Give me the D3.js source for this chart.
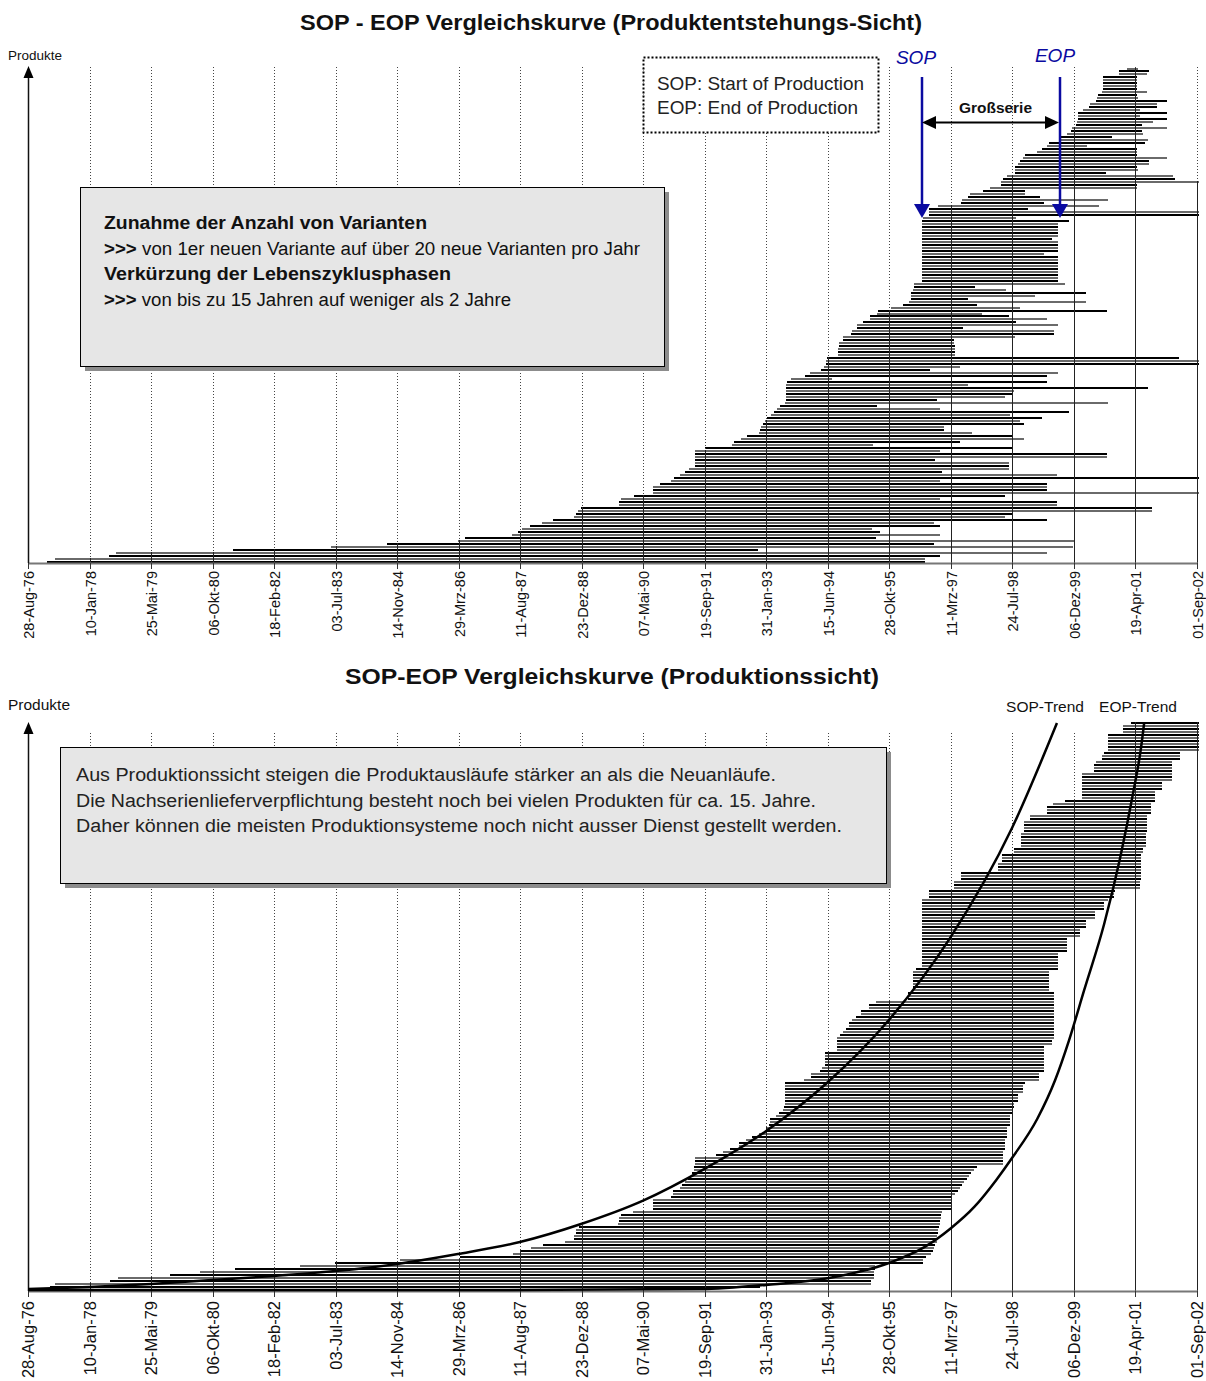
<!DOCTYPE html>
<html>
<head>
<meta charset="utf-8">
<script src="https://cdn.jsdelivr.net/npm/d3@7"></script>
<style>
  body { margin: 0; background: #fff; }
  svg text { font-family: "Liberation Sans", Arial, sans-serif; }
</style>
</head>
<body>
<div id="chart"></div>
<script>
// x axis: one tick every 500 days
const tickDates = ['1976-08-28', '1978-01-10', '1979-05-25', '1980-10-06', '1982-02-18',
  '1983-07-03', '1984-11-14', '1986-03-29', '1987-08-11', '1988-12-23', '1990-05-07',
  '1991-09-19', '1993-01-31', '1994-06-15', '1995-10-28', '1997-03-11', '1998-07-24',
  '1999-12-06', '2001-04-19', '2002-09-01'];
const tickLabels = ['28-Aug-76', '10-Jan-78', '25-Mai-79', '06-Okt-80', '18-Feb-82',
  '03-Jul-83', '14-Nov-84', '29-Mrz-86', '11-Aug-87', '23-Dez-88', '07-Mai-90',
  '19-Sep-91', '31-Jan-93', '15-Jun-94', '28-Okt-95', '11-Mrz-97', '24-Jul-98',
  '06-Dez-99', '19-Apr-01', '01-Sep-02'];

// Produktentstehungs-Sicht: SOP / EOP per product (decimal years), top row first
const sopTop = [
  2001.11, 2000.93, 2000.93, 2000.58, 2000.58, 2000.58, 2000.58, 2000.58, 2000.55, 2000.46,
  2000.44, 2000.42, 2000.29, 2000.26, 2000.13, 2000.02, 2000.02, 2000.02, 2000.00, 1999.98,
  1999.89, 1999.86, 1999.78, 1999.62, 1999.60, 1999.37, 1999.33, 1999.22, 1999.11, 1998.84,
  1998.80, 1998.73, 1998.68, 1998.62, 1998.62, 1998.62, 1998.44, 1998.35, 1998.31, 1998.31,
  1998.06, 1997.91, 1997.62, 1997.57, 1997.44, 1997.42, 1996.90, 1996.70, 1996.70, 1996.70,
  1996.57, 1996.55, 1996.55, 1996.55, 1996.55, 1996.55, 1996.55, 1996.55, 1996.55, 1996.55,
  1996.55, 1996.55, 1996.55, 1996.55, 1996.55, 1996.55, 1996.55, 1996.55, 1996.55, 1996.55,
  1996.55, 1996.55, 1996.37, 1996.37, 1996.35, 1996.30, 1996.30, 1996.30, 1996.26, 1996.13,
  1995.86, 1995.57, 1995.55, 1995.39, 1995.39, 1995.24, 1995.10, 1995.10, 1994.99, 1994.97,
  1994.79, 1994.79, 1994.70, 1994.70, 1994.68, 1994.68, 1994.68, 1994.43, 1994.41, 1994.41,
  1994.37, 1994.30, 1994.06, 1993.94, 1993.63, 1993.54, 1993.52, 1993.52, 1993.52, 1993.52,
  1993.52, 1993.52, 1993.50, 1993.39, 1993.32, 1993.25, 1993.19, 1993.10, 1993.05, 1993.01,
  1992.97, 1992.94, 1992.92, 1992.65, 1992.52, 1992.36, 1992.32, 1991.72, 1991.50, 1991.50,
  1991.50, 1991.50, 1991.50, 1991.50, 1991.36, 1991.27, 1991.16, 1991.03, 1990.96, 1990.72,
  1990.56, 1990.56, 1990.56, 1990.14, 1989.85, 1989.81, 1989.81, 1988.96, 1988.89, 1988.85,
  1988.81, 1988.34, 1988.09, 1987.83, 1987.65, 1987.56, 1987.43, 1986.38, 1986.22, 1984.64,
  1983.40, 1981.22, 1978.61, 1978.46, 1977.26, 1977.08];
const eopTop = [
  2001.36, 2001.60, 2001.56, 2001.33, 2001.33, 2001.33, 2001.33, 2001.33, 2001.56, 2001.33,
  2001.36, 2002.00, 2001.78, 2001.78, 2001.40, 2002.00, 2001.40, 2002.00, 2001.69, 2001.44,
  2002.00, 2001.44, 2001.47, 2000.78, 2001.58, 2001.51, 2000.22, 2001.33, 2001.33, 2001.33,
  2002.00, 2001.60, 2001.60, 2001.33, 2001.36, 2000.64, 2002.13, 2002.18, 2002.70, 2001.33,
  2001.33, 1998.84, 1998.84, 1999.17, 2000.69, 1999.26, 2000.49, 1998.91, 2002.70, 2002.70,
  1998.64, 1999.82, 1999.58, 1999.58, 1999.58, 1999.58, 1999.58, 1999.45, 1999.58, 1999.58,
  1999.58, 1999.58, 1999.26, 1999.58, 1999.58, 1999.58, 1999.58, 1999.58, 1999.58, 1999.58,
  1999.58, 1999.58, 1999.73, 1997.73, 1998.42, 2000.20, 1999.06, 1997.57, 2000.20, 1997.77,
  1998.73, 2000.67, 1997.88, 1998.48, 1999.33, 1998.64, 1999.58, 1997.46, 1999.49, 1999.49,
  1998.62, 1997.26, 1997.26, 1997.28, 1997.28, 1997.28, 1997.28, 2002.27, 2002.70, 2002.70,
  1997.39, 1996.73, 1999.58, 1999.33, 1994.55, 1999.33, 1997.57, 2001.58, 1998.60, 1998.55,
  1998.40, 1996.88, 2000.69, 1995.55, 1996.95, 1999.82, 1998.51, 1999.22, 1998.73, 1998.82,
  1997.04, 1997.04, 1997.66, 1998.55, 1998.82, 1997.39, 1995.46, 1998.55, 1996.95, 2000.67,
  2000.67, 1996.84, 1998.48, 1998.48, 1998.48, 1996.99, 1999.55, 2002.70, 1996.95, 1999.33,
  1999.33, 1999.33, 2002.70, 1998.40, 1996.95, 1999.55, 1999.55, 2001.67, 2001.67, 1998.55,
  1998.40, 1999.33, 1996.82, 1996.95, 1995.44, 1995.61, 1996.95, 1995.53, 1999.93, 1996.82,
  1999.91, 1992.90, 1999.33, 1996.95, 1996.62, 1996.62];

// Produktionssicht: start / end per product (decimal years), top row first
const sopBot = [
  2001.20, 2001.02, 2001.02, 2001.02, 2000.69, 2000.69, 2000.69, 2000.69, 2000.69, 2000.69,
  2000.60, 2000.55, 2000.55, 2000.42, 2000.38, 2000.38, 2000.38, 2000.11, 2000.11, 2000.11,
  2000.11, 2000.11, 2000.11, 2000.11, 2000.11, 2000.11, 1999.73, 1999.46, 1999.33, 1999.33,
  1999.33, 1998.95, 1998.95, 1998.82, 1998.82, 1998.82, 1998.82, 1998.75, 1998.75, 1998.75,
  1998.75, 1998.75, 1998.60, 1998.60, 1998.33, 1998.33, 1998.33, 1998.24, 1998.24, 1998.24,
  1997.42, 1997.42, 1997.42, 1997.26, 1997.26, 1997.26, 1996.70, 1996.70, 1996.70, 1996.55,
  1996.55, 1996.55, 1996.55, 1996.55, 1996.55, 1996.55, 1996.55, 1996.55, 1996.55, 1996.55,
  1996.55, 1996.55, 1996.55, 1996.55, 1996.55, 1996.55, 1996.55, 1996.55, 1996.55, 1996.55,
  1996.55, 1996.55, 1996.41, 1996.35, 1996.35, 1996.35, 1996.35, 1996.35, 1996.35, 1996.35,
  1996.24, 1996.24, 1996.24, 1995.53, 1995.37, 1995.37, 1995.19, 1995.19, 1995.08, 1994.99,
  1994.92, 1994.92, 1994.86, 1994.79, 1994.72, 1994.66, 1994.66, 1994.66, 1994.66, 1994.66,
  1994.39, 1994.39, 1994.39, 1994.39, 1994.39, 1994.32, 1994.28, 1994.08, 1994.08, 1993.92,
  1993.50, 1993.50, 1993.50, 1993.50, 1993.50, 1993.50, 1993.50, 1993.50, 1993.48, 1993.46,
  1993.37, 1993.30, 1993.17, 1993.17, 1993.15, 1993.08, 1993.08, 1992.92, 1992.77, 1992.63,
  1992.48, 1992.48, 1992.28, 1992.12, 1991.96, 1991.50, 1991.50, 1991.50, 1991.48, 1991.48,
  1991.43, 1991.41, 1991.34, 1991.27, 1991.21, 1991.16, 1991.01, 1991.01, 1990.96, 1990.56,
  1990.56, 1990.56, 1990.56, 1990.12, 1989.85, 1989.81, 1989.81, 1989.78, 1988.92, 1988.85,
  1988.85, 1988.81, 1988.81, 1988.60, 1988.12, 1987.85, 1987.60, 1987.45, 1986.27, 1984.93,
  1983.49, 1982.71, 1981.26, 1980.48, 1979.81, 1978.66, 1978.48, 1977.26, 1977.14];
const eopBot = [
  2002.70, 2002.70, 2002.70, 2002.70, 2002.70, 2002.70, 2002.70, 2002.70, 2002.70, 2002.70,
  2002.29, 2002.29, 2002.29, 2002.11, 2002.11, 2002.11, 2002.11, 2002.11, 2002.11, 2002.11,
  2001.89, 2001.89, 2001.89, 2001.73, 2001.73, 2001.73, 2001.73, 2001.64, 2001.64, 2001.64,
  2001.64, 2001.56, 2001.56, 2001.56, 2001.56, 2001.56, 2001.56, 2001.53, 2001.53, 2001.53,
  2001.53, 2001.53, 2001.47, 2001.47, 2001.42, 2001.42, 2001.42, 2001.42, 2001.42, 2001.42,
  2001.42, 2001.42, 2001.42, 2001.40, 2001.40, 2001.40, 2000.84, 2000.82, 2000.82, 2000.69,
  2000.60, 2000.60, 2000.60, 2000.40, 2000.40, 2000.40, 2000.20, 2000.20, 2000.20, 2000.06,
  2000.06, 2000.06, 1999.78, 1999.78, 1999.78, 1999.78, 1999.78, 1999.58, 1999.58, 1999.58,
  1999.58, 1999.58, 1999.58, 1999.37, 1999.37, 1999.37, 1999.37, 1999.37, 1999.37, 1999.37,
  1999.49, 1999.49, 1999.49, 1999.49, 1999.49, 1999.49, 1999.49, 1999.49, 1999.49, 1999.49,
  1999.49, 1999.49, 1999.49, 1999.49, 1999.49, 1999.49, 1999.44, 1999.44, 1999.26, 1999.26,
  1999.26, 1999.26, 1999.26, 1999.26, 1999.26, 1999.26, 1999.26, 1999.15, 1999.15, 1999.15,
  1998.84, 1998.80, 1998.80, 1998.80, 1998.68, 1998.68, 1998.68, 1998.60, 1998.60, 1998.55,
  1998.55, 1998.51, 1998.51, 1998.51, 1998.51, 1998.44, 1998.44, 1998.44, 1998.44, 1998.40,
  1998.40, 1998.40, 1998.40, 1998.35, 1998.35, 1998.35, 1998.35, 1998.35, 1997.77, 1997.71,
  1997.64, 1997.59, 1997.55, 1997.48, 1997.44, 1997.39, 1997.35, 1997.28, 1997.19, 1997.19,
  1997.19, 1997.19, 1997.19, 1996.99, 1996.97, 1996.97, 1996.95, 1996.95, 1996.93, 1996.90,
  1996.90, 1996.88, 1996.88, 1996.88, 1996.84, 1996.82, 1996.79, 1996.75, 1996.64, 1996.57,
  1996.57, 1995.50, 1995.50, 1995.48, 1995.48, 1995.48, 1995.41, 1995.41, 1992.94];

// trend curves: [year, number of products]
const sopTrend = [[1976.66, -0.7], [1978.03, 0], [1979.39, 1], [1980.75, 2.3], [1982.13, 3.7],
  [1983.49, 5.3], [1984.87, 7.7], [1986.22, 11], [1987.60, 15], [1988.96, 21], [1990.34, 28.8],
  [1991.70, 39.3], [1993.08, 52], [1994.43, 68], [1995.81, 89], [1997.17, 116.3],
  [1998.55, 153], [1999.55, 188]];
const eopTrend = [[1976.66, -1], [1987.16, -1], [1991.61, -0.7], [1993.08, 0.7], [1994.48, 3],
  [1995.81, 8], [1996.59, 13.2], [1997.19, 19.6], [1997.71, 26.7], [1998.20, 35.7],
  [1998.55, 43], [1999.11, 56], [1999.51, 69], [1999.82, 82.3], [2000.15, 98.7],
  [2000.60, 121], [2000.95, 142.7], [2001.24, 164.3], [2001.42, 179.7], [2001.49, 188]];

const W = 1206, H = 1381;
const svg = d3.select('#chart').append('svg').attr('width', W).attr('height', H);

const toYear = s => {
  const d = new Date(s + 'T00:00:00Z');
  const yr = d.getUTCFullYear();
  const a = Date.UTC(yr, 0, 1), b = Date.UTC(yr + 1, 0, 1);
  return yr + (d - a) / (b - a);
};
const tickYears = tickDates.map(toYear);
const x = d3.scaleLinear().domain([tickYears[0], tickYears[tickYears.length - 1]]).range([28, 1197]);
const xMax = 2002.7;

function drawPanel(cfg) {
  const { sop, eop, rowTop, rowBottom, gridTop, axisY, labelSize } = cfg;
  const n = sop.length;
  const y = d3.scaleLinear().domain([0, n - 1]).range([rowTop, rowBottom]);
  const g = svg.append('g');

  // bars, alternating black / grey rows like the original
  g.selectAll('rect.bar').data(d3.range(n)).join('rect')
    .attr('class', 'bar')
    .attr('x', i => x(sop[i]))
    .attr('width', i => Math.max(1, x(Math.min(eop[i], xMax)) - x(sop[i])))
    .attr('y', i => Math.round(y(i)) - 1)
    .attr('height', 2)
    .attr('fill', i => (n - 1 - i) % 2 ? '#6a6a6a' : '#000')
    .attr('shape-rendering', 'crispEdges');

  // gridlines: dotted, solid below the highest bar that crosses them
  tickYears.slice(1).forEach(t => {
    const xx = Math.round(x(t)) + 0.5;
    const hit = d3.range(n).find(i => sop[i] <= t && eop[i] >= t);
    const solidTop = hit === undefined ? axisY : Math.round(y(hit)) - 1;
    g.append('line')
      .attr('x1', xx).attr('x2', xx).attr('y1', gridTop).attr('y2', solidTop)
      .attr('stroke', '#444').attr('stroke-dasharray', '1,2');
    if (hit !== undefined) {
      g.append('line')
        .attr('x1', xx).attr('x2', xx).attr('y1', solidTop).attr('y2', axisY)
        .attr('stroke', '#222');
    }
  });

  // x axis
  g.append('line').attr('x1', 28).attr('x2', 1198).attr('y1', axisY + 0.5).attr('y2', axisY + 0.5)
    .attr('stroke', '#777').attr('stroke-width', 2);
  tickYears.forEach((t, k) => {
    const xx = Math.round(x(t)) + 0.5;
    g.append('line').attr('x1', xx).attr('x2', xx).attr('y1', axisY).attr('y2', axisY + 6)
      .attr('stroke', '#333');
    g.append('text')
      .attr('transform', `translate(${xx},${axisY + cfg.labelGap}) rotate(-90)`)
      .attr('text-anchor', 'end').attr('dy', '0.35em')
      .attr('font-size', labelSize).attr('fill', '#111')
      .text(tickLabels[k]);
  });

  // y axis arrow
  g.append('line').attr('x1', 28.5).attr('x2', 28.5).attr('y1', axisY).attr('y2', cfg.arrowTip + 10)
    .attr('stroke', '#111').attr('stroke-width', 1.5);
  g.append('path')
    .attr('d', `M28.5,${cfg.arrowTip} L23.5,${cfg.arrowTip + 12} L33.5,${cfg.arrowTip + 12} Z`)
    .attr('fill', '#000');
  svg.append('text').attr('x', 8).attr('y', cfg.produkteY).attr('font-size', cfg.produkteSize)
    .attr('fill', '#111').text('Produkte');
  return { g, y };
}

function shadowBox(x0, y0, w, h) {
  svg.append('rect').attr('x', x0 + 5).attr('y', y0 + 5).attr('width', w).attr('height', h).attr('fill', '#8c8c8c');
  svg.append('rect').attr('x', x0 + 0.5).attr('y', y0 + 0.5).attr('width', w).attr('height', h)
    .attr('fill', '#e6e6e6').attr('stroke', '#000');
}

// text line helper: fixed width as measured on the original
function textLine(parent, x0, y0, size, len, parts) {
  const t = parent.append('text').attr('x', x0).attr('y', y0).attr('font-size', size)
    .attr('textLength', len).attr('lengthAdjust', 'spacingAndGlyphs');
  parts.forEach(([s, bold]) => t.append('tspan').attr('font-weight', bold ? 'bold' : null).text(s));
  return t;
}

// ---------- top panel ----------
textLine(svg, 300, 30, 22, 622, [['SOP - EOP Vergleichskurve (Produktentstehungs-Sicht)', true]])
  .attr('fill', '#111');

drawPanel({ sop: sopTop, eop: eopTop, rowTop: 68.5, rowBottom: 561.5, gridTop: 67, axisY: 563,
  labelSize: 14.5, labelGap: 8, arrowTip: 66, produkteY: 60, produkteSize: 13.5 });

shadowBox(80, 187, 584, 179);
const info = svg.append('g').attr('fill', '#111');
textLine(info, 104, 229, 18, 323, [['Zunahme der Anzahl von Varianten', true]]);
textLine(info, 104, 255, 18, 536, [['>>>', true], [' von 1er neuen Variante auf über 20 neue Varianten pro Jahr', false]]);
textLine(info, 104, 280, 18, 347, [['Verkürzung der Lebenszyklusphasen', true]]);
textLine(info, 104, 306, 18, 407, [['>>>', true], [' von bis zu 15 Jahren auf weniger als 2 Jahre', false]]);

// SOP / EOP legend box (dotted)
svg.append('rect').attr('x', 643.5).attr('y', 57.5).attr('width', 235).attr('height', 75)
  .attr('fill', '#fff').attr('stroke', '#000').attr('stroke-width', 2).attr('stroke-dasharray', '2,2');
const leg = svg.append('g').attr('fill', '#222');
textLine(leg, 657, 90, 18, 207, [['SOP: Start of Production', false]]);
textLine(leg, 657, 114, 18, 201, [['EOP: End of Production', false]]);

// blue SOP / EOP arrows
const blue = '#0a0aa0';
[[922, 'SOP', 916, 64], [1060, 'EOP', 1055, 62]].forEach(([ax, lbl, lx, ly]) => {
  svg.append('text').attr('x', lx).attr('y', ly).attr('text-anchor', 'middle')
    .attr('font-size', 19).attr('font-style', 'italic').attr('fill', blue).text(lbl);
  svg.append('line').attr('x1', ax).attr('x2', ax).attr('y1', 77).attr('y2', 206)
    .attr('stroke', blue).attr('stroke-width', 2.5);
  svg.append('path').attr('d', `M${ax - 8},204 L${ax + 8},204 L${ax},218 Z`).attr('fill', blue);
});
// Großserie double arrow
svg.append('line').attr('x1', 932).attr('x2', 1050).attr('y1', 122.5).attr('y2', 122.5)
  .attr('stroke', '#000').attr('stroke-width', 2);
svg.append('path').attr('d', 'M922,122.5 L936,116 L936,129 Z').attr('fill', '#000');
svg.append('path').attr('d', 'M1059,122.5 L1045,116 L1045,129 Z').attr('fill', '#000');
textLine(svg, 959, 113, 15, 73, [['Großserie', true]]).attr('fill', '#111');

// ---------- bottom panel ----------
textLine(svg, 345, 684, 22, 534, [['SOP-EOP Vergleichskurve (Produktionssicht)', true]])
  .attr('fill', '#111');

drawPanel({ sop: sopBot, eop: eopBot, rowTop: 723, rowBottom: 1287, gridTop: 733, axisY: 1291,
  labelSize: 16.5, labelGap: 10, arrowTip: 722, produkteY: 710, produkteSize: 15.5 });

const yCount = d3.scaleLinear().domain([0, sopBot.length - 1]).range([1287, 723]);
const trendLine = d3.line().x(d => x(d[0])).y(d => Math.min(1290, yCount(d[1]))).curve(d3.curveMonotoneX);
[sopTrend, eopTrend].forEach(pts => {
  svg.append('path').attr('d', trendLine(pts)).attr('fill', 'none')
    .attr('stroke', '#000').attr('stroke-width', 2.5);
});
svg.append('text').attr('x', 1045).attr('y', 712).attr('text-anchor', 'middle').attr('font-size', 15.5)
  .attr('fill', '#111').text('SOP-Trend');
svg.append('text').attr('x', 1138).attr('y', 712).attr('text-anchor', 'middle').attr('font-size', 15.5)
  .attr('fill', '#111').text('EOP-Trend');

shadowBox(60, 747, 826, 136);
const info2 = svg.append('g').attr('fill', '#222');
textLine(info2, 76, 781, 18, 700, [['Aus Produktionssicht steigen die Produktausläufe stärker an als die Neuanläufe.', false]]);
textLine(info2, 76, 807, 18, 740, [['Die Nachserienlieferverpflichtung besteht noch bei vielen Produkten für ca. 15. Jahre.', false]]);
textLine(info2, 76, 832, 18, 766, [['Daher können die meisten Produktionsysteme noch nicht ausser Dienst gestellt werden.', false]]);
</script>
</body>
</html>
